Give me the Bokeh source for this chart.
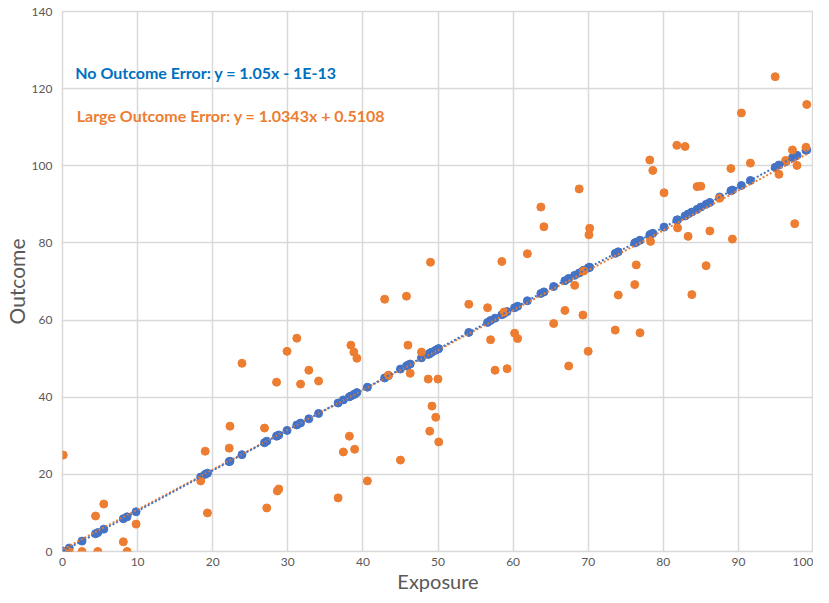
from bokeh.plotting import figure
from bokeh.models import ColumnDataSource, Label, FixedTicker
from bokeh.embed import file_html
from bokeh.resources import INLINE

# Exposure values (shared by both series)
exposure = [0.1, 0.9, 2.6, 4.4, 4.7, 5.5, 8.1, 8.6, 9.8, 18.4, 19.0, 19.3, 22.2, 22.3, 23.9,
            26.9, 27.2, 28.5, 28.6, 28.8, 29.9, 31.2, 31.7, 32.8, 34.1, 36.7, 37.4, 38.2, 38.4,
            38.8, 38.9, 39.2, 40.6, 42.9, 43.4, 45.0, 45.8, 46.0, 46.3, 47.8, 48.7, 49.0, 49.2,
            48.9, 49.7, 50.0, 50.1, 54.1, 56.6, 57.0, 57.6, 58.5, 58.8, 59.2, 60.2, 60.6, 61.9,
            63.7, 64.1, 65.4, 66.9, 67.4, 68.2, 68.8, 69.3, 69.4, 70.0, 70.1, 70.2, 73.6, 74.0,
            76.2, 76.4, 76.9, 78.2, 78.3, 78.6, 80.1, 81.8, 81.9, 82.9, 83.3, 83.8, 84.5, 85.0,
            85.7, 86.2, 87.5, 89.0, 89.2, 90.4, 91.6, 94.9, 95.4, 96.3, 97.2, 97.5, 97.8, 99.0, 99.1]

# Outcome without error
outcome_no_error = [0.1, 0.9, 2.7, 4.6, 4.9, 5.8, 8.5, 9.0, 10.3, 19.3, 20.0, 20.3, 23.3, 23.4, 25.1,
                    28.2, 28.6, 29.9, 30.0, 30.2, 31.4, 32.8, 33.3, 34.4, 35.8, 38.5, 39.3, 40.1, 40.3,
                    40.7, 40.8, 41.2, 42.6, 45.0, 45.6, 47.3, 48.1, 48.3, 48.6, 50.2, 51.1, 51.5, 51.7,
                    51.3, 52.2, 52.5, 52.6, 56.8, 59.4, 59.9, 60.5, 61.4, 61.7, 62.2, 63.2, 63.6, 65.0,
                    66.9, 67.3, 68.7, 70.2, 70.8, 71.6, 72.2, 72.8, 72.9, 73.5, 73.6, 73.7, 77.3, 77.7,
                    80.0, 80.2, 80.7, 82.1, 82.2, 82.5, 84.1, 85.9, 86.0, 87.0, 87.5, 88.0, 88.7, 89.3,
                    90.0, 90.5, 91.9, 93.5, 93.7, 94.9, 96.2, 99.6, 100.2, 101.1, 102.1, 102.4, 102.7, 104.0, 104.1]

# Outcome with large error
outcome_large_error = [25.0, 0.0, 0.0, 9.2, 0.0, 12.3, 2.5, 0.0, 7.1, 18.3, 26.0, 10.0, 26.8, 32.5, 48.8,
                       32.0, 11.3, 43.9, 15.7, 16.2, 51.9, 55.3, 43.4, 47.0, 44.2, 13.9, 25.8, 29.9, 53.5,
                       51.7, 26.5, 50.1, 18.3, 65.4, 45.7, 23.7, 66.2, 53.5, 46.2, 51.7, 44.7, 75.0, 37.7,
                       31.2, 34.8, 44.7, 28.4, 64.1, 63.2, 54.9, 47.0, 75.2, 62.1, 47.4, 56.6, 55.2, 77.2,
                       89.3, 84.2, 59.1, 62.5, 48.1, 69.0, 94.0, 61.3, 72.7, 51.9, 82.1, 83.8, 57.4, 66.5,
                       69.2, 74.3, 56.7, 101.5, 80.4, 98.8, 93.0, 105.3, 83.9, 105.0, 81.7, 66.6, 94.6, 94.7,
                       74.1, 83.1, 91.6, 99.3, 81.0, 113.7, 100.7, 123.1, 97.8, 101.4, 104.1, 85.0, 100.1, 104.8, 115.9]

# Trendline coefficients (slope, intercept)
trend_no_error = (1.05, 0.0)
trend_large_error = (1.0343, 0.5108)

x_ticks = [0, 10, 20, 30, 40, 50, 60, 70, 80, 90, 100]
y_ticks = [0, 20, 40, 60, 80, 100, 120, 140]

label_no_error = "No Outcome Error: y = 1.05x - 1E-13"
label_large_error = "Large Outcome Error: y = 1.0343x + 0.5108"

BLUE = "#4472C4"
ORANGE = "#ED7D31"
GRID = "#D9D9D9"
TXT = "#595959"
FONT = "Lato"

p = figure(width=813, height=595, x_range=(0, 100), y_range=(0, 140),
           output_backend="svg", toolbar_location=None)
p.min_border_left = 55
p.min_border_right = 0
p.min_border_top = 11
p.min_border_bottom = 44
p.outline_line_color = GRID
p.outline_line_width = 1.5

for ax in (p.xaxis, p.yaxis):
    ax.axis_line_color = None
    ax.major_tick_line_color = None
    ax.minor_tick_line_color = None
    ax.major_tick_out = 0
    ax.major_tick_in = 0
    ax.minor_tick_out = 0
    ax.minor_tick_in = 0
    ax.major_label_text_color = TXT
    ax.major_label_text_font = FONT
    ax.major_label_text_font_size = "12px"
    ax.axis_label_text_color = TXT
    ax.axis_label_text_font = FONT
    ax.axis_label_text_font_style = "normal"

p.xaxis.axis_label_text_font_size = "20px"
p.yaxis.axis_label_text_font_size = "21px"
p.xaxis.ticker = FixedTicker(ticks=x_ticks)
p.yaxis.ticker = FixedTicker(ticks=y_ticks)
p.xaxis.axis_label = "Exposure"
p.yaxis.axis_label = "Outcome"
p.xaxis.major_label_standoff = 6
p.yaxis.major_label_standoff = 10
p.xaxis.axis_label_standoff = 0
p.yaxis.axis_label_standoff = 0

p.xgrid.grid_line_color = GRID
p.ygrid.grid_line_color = GRID
p.xgrid.grid_line_width = 1.5
p.ygrid.grid_line_width = 1.5

src = ColumnDataSource(dict(x=exposure, y0=outcome_no_error, y1=outcome_large_error))
p.scatter("x", "y0", source=src, size=8, color=BLUE, line_color=BLUE)
p.scatter("x", "y1", source=src, size=8, color=ORANGE, line_color=ORANGE)

xmin, xmax = min(exposure), max(exposure)
for (m, b), col in ((trend_large_error, ORANGE), (trend_no_error, BLUE)):
    p.line([xmin, xmax], [m * xmin + b, m * xmax + b], line_color=col,
           line_width=2, line_dash="2 2")

p.add_layout(Label(x=1.7, y=124.2, text=label_no_error, text_color="#0070C0",
                   text_font=FONT, text_font_size="16px", text_font_style="bold",
                   text_baseline="middle"))
p.add_layout(Label(x=1.9, y=113.1, text=label_large_error, text_color=ORANGE,
                   text_font=FONT, text_font_size="16px", text_font_style="bold",
                   text_baseline="middle"))

open("out.html", "w").write(file_html(p, INLINE))
